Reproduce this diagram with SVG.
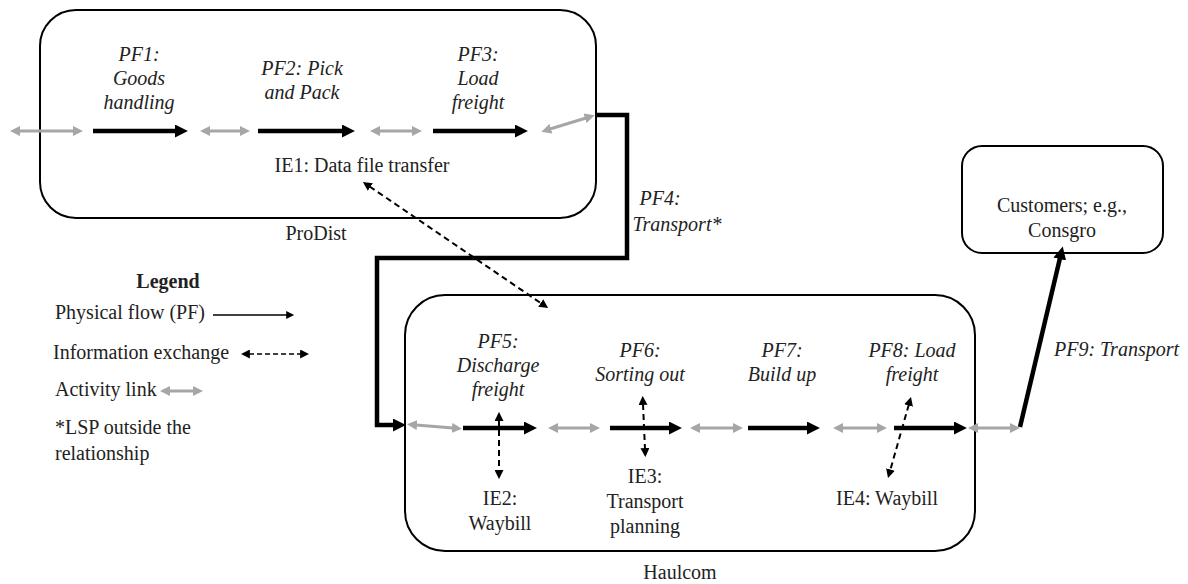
<svg xmlns="http://www.w3.org/2000/svg" width="1188" height="584" viewBox="0 0 1188 584">
<style>
text{font-family:"Liberation Serif","Times New Roman",serif;font-size:20px;fill:#222}
.it{font-style:italic}
.m{text-anchor:middle}
.box{fill:#fff;stroke:#000;stroke-width:2}
.pf{stroke:#000;stroke-width:4.5;fill:none}
.al{stroke:#a6a6a6;stroke-width:3;fill:none}
.ie{stroke:#000;stroke-width:2;fill:none;stroke-dasharray:6,4}
</style>
<defs>
<marker id="hb" viewBox="0 0 12 12" refX="1" refY="6" markerWidth="13" markerHeight="13" markerUnits="userSpaceOnUse" orient="auto"><path d="M0,0 L12,6 L0,12 z" fill="#000"/></marker>
<marker id="hg" viewBox="0 0 10 10" refX="1" refY="5" markerWidth="10" markerHeight="10" markerUnits="userSpaceOnUse" orient="auto-start-reverse"><path d="M0,0 L10,5 L0,10 z" fill="#a6a6a6"/></marker>
<marker id="hi" viewBox="0 0 10 10" refX="1" refY="5" markerWidth="9" markerHeight="9" markerUnits="userSpaceOnUse" orient="auto-start-reverse"><path d="M0,0 L10,5 L0,10 z" fill="#000"/></marker>
<marker id="hl" viewBox="0 0 10 10" refX="1" refY="5" markerWidth="9" markerHeight="8" markerUnits="userSpaceOnUse" orient="auto"><path d="M0,0 L10,5 L0,10 z" fill="#000"/></marker>
</defs>

<g id="prodist">
<rect class="box" x="40" y="10" width="556" height="208" rx="36"/>
<text class="m" x="316" y="240">ProDist</text>
</g>
<g id="pf1"><text class="it m" x="139" y="61">PF1:</text><text class="it m" x="139" y="85">Goods</text><text class="it m" x="139" y="109">handling</text></g>
<g id="pf2"><text class="it m" x="302" y="75">PF2: Pick</text><text class="it m" x="302" y="99">and Pack</text></g>
<g id="pf3"><text class="it m" x="478" y="61">PF3:</text><text class="it m" x="478" y="85">Load</text><text class="it m" x="478" y="109">freight</text></g>
<g id="ie1"><text class="m" x="362" y="172">IE1: Data file transfer</text></g>
<g id="pf4"><text class="it m" x="660" y="205">PF4:</text><text class="it m" x="677" y="231">Transport*</text></g>

<g id="legend">
<text x="168" y="288" class="m" font-weight="bold">Legend</text>
<text x="55" y="319">Physical flow (PF)</text>
<text x="53" y="359">Information exchange</text>
<text x="55" y="396">Activity link</text>
<text x="55" y="434">*LSP outside the</text>
<text x="55" y="460">relationship</text>
</g>

<g id="haulcom">
<rect class="box" x="405" y="295" width="570" height="256" rx="40"/>
<text class="m" x="680" y="579">Haulcom</text>
</g>
<g id="pf5"><text class="it m" x="498" y="348">PF5:</text><text class="it m" x="498" y="372">Discharge</text><text class="it m" x="498" y="396">freight</text></g>
<g id="pf6"><text class="it m" x="640" y="357">PF6:</text><text class="it m" x="640" y="381">Sorting out</text></g>
<g id="pf7"><text class="it m" x="782" y="357">PF7:</text><text class="it m" x="782" y="381">Build up</text></g>
<g id="pf8"><text class="it m" x="912" y="357">PF8: Load</text><text class="it m" x="912" y="381">freight</text></g>
<g id="ie2"><text class="m" x="500" y="505">IE2:</text><text class="m" x="500" y="530">Waybill</text></g>
<g id="ie3"><text class="m" x="645" y="483">IE3:</text><text class="m" x="645" y="508">Transport</text><text class="m" x="645" y="533">planning</text></g>
<g id="ie4"><text class="m" x="887" y="505">IE4: Waybill</text></g>
<g id="pf9"><text class="it" x="1054" y="356">PF9: Transport</text></g>
<g id="customers">
<rect class="box" x="962" y="146" width="201" height="107" rx="20"/>
<text class="m" x="1062" y="212">Customers; e.g.,</text>
<text class="m" x="1062" y="237">Consgro</text>
</g>

<g id="connectors">
<line class="al" x1="19" y1="131" x2="74" y2="131" marker-start="url(#hg)" marker-end="url(#hg)"/>
<line class="pf" x1="93" y1="131" x2="176" y2="131" marker-end="url(#hb)"/>
<line class="al" x1="209" y1="131" x2="241" y2="131" marker-start="url(#hg)" marker-end="url(#hg)"/>
<line class="pf" x1="258" y1="131" x2="343" y2="131" marker-end="url(#hb)"/>
<line class="al" x1="379" y1="131" x2="413" y2="131" marker-start="url(#hg)" marker-end="url(#hg)"/>
<line class="pf" x1="433" y1="131" x2="516" y2="131" marker-end="url(#hb)"/>
<line class="al" x1="550" y1="129" x2="586" y2="118" marker-start="url(#hg)" marker-end="url(#hg)"/>
<polyline class="pf" points="596,115 627,115 627,258 377,258 377,425 394,425" marker-end="url(#hb)"/>
<line class="ie" x1="369.6" y1="186.5" x2="541.4" y2="303.5" marker-start="url(#hi)" marker-end="url(#hi)"/>
<line x1="213" y1="315" x2="287" y2="315" stroke="#000" stroke-width="1.6" marker-end="url(#hl)"/>
<line x1="249" y1="354" x2="301" y2="354" stroke="#000" stroke-width="1.6" stroke-dasharray="5,3" marker-start="url(#hi)" marker-end="url(#hi)"/>
<line class="al" x1="169" y1="391" x2="194" y2="391" marker-start="url(#hg)" marker-end="url(#hg)"/>
<line class="al" x1="416" y1="425" x2="453" y2="428" marker-start="url(#hg)" marker-end="url(#hg)"/>
<line class="pf" x1="463" y1="428" x2="525" y2="428" marker-end="url(#hb)"/>
<line class="al" x1="557" y1="428" x2="591" y2="428" marker-start="url(#hg)" marker-end="url(#hg)"/>
<line class="pf" x1="610" y1="428" x2="670" y2="428" marker-end="url(#hb)"/>
<line class="al" x1="699" y1="428" x2="734" y2="428" marker-start="url(#hg)" marker-end="url(#hg)"/>
<line class="pf" x1="748" y1="428" x2="808" y2="428" marker-end="url(#hb)"/>
<line class="al" x1="842" y1="428" x2="878" y2="428" marker-start="url(#hg)" marker-end="url(#hg)"/>
<line class="pf" x1="894" y1="428" x2="955" y2="428" marker-end="url(#hb)"/>
<line class="al" x1="977" y1="428" x2="1011" y2="428" marker-start="url(#hg)" marker-end="url(#hg)"/>
<line class="pf" x1="1020" y1="427" x2="1060" y2="258" marker-end="url(#hb)"/>
<line class="ie" x1="499" y1="420" x2="499" y2="471" marker-start="url(#hi)" marker-end="url(#hi)"/>
<line class="ie" x1="643" y1="404" x2="645" y2="449" marker-start="url(#hi)" marker-end="url(#hi)"/>
<line class="ie" x1="908.8" y1="404.7" x2="890.2" y2="470.3" marker-start="url(#hi)" marker-end="url(#hi)"/>
</g>
</svg>
